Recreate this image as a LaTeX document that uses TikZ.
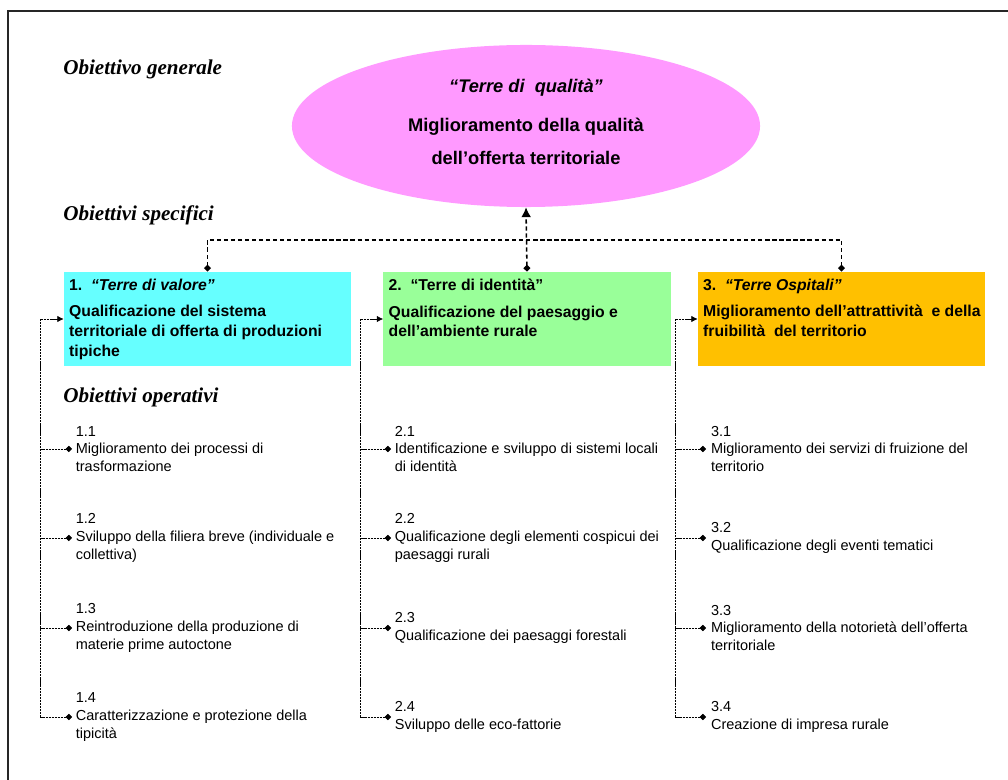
\documentclass[tikz,border=0pt]{standalone}
\usepackage{fontspec}
\setmainfont{Liberation Sans}
\newfontfamily\levelfont{Liberation Serif}
\usetikzlibrary{positioning,shapes.geometric,arrows.meta}

\definecolor{goalpink}{HTML}{FF99FF}
\definecolor{valcyan}{HTML}{66FFFF}
\definecolor{idgreen}{HTML}{99FF99}
\definecolor{ospgold}{HTML}{FFC000}

\tikzset{
  level/.style={anchor=west, inner sep=0, font=\levelfont\bfseries\itshape\fontsize{15}{17}\selectfont},
  goal/.style={ellipse, fill=goalpink, minimum width=11.7cm, minimum height=4.05cm, inner sep=0},
  goaltext/.style={align=center, inner sep=0, font=\bfseries\fontsize{13}{15}\selectfont},
  spec/.style={minimum width=7.175cm, minimum height=2.35cm, inner sep=0},
  spectext/.style={align=left, inner sep=0, anchor=north west, font=\bfseries\fontsize{11.2}{14}\selectfont},
  item/.style={align=left, inner sep=0, anchor=west, font=\fontsize{10.3}{12.5}\selectfont},
  upline/.style={line width=1.1pt, dash pattern=on 3pt off 2pt},
  opline/.style={line width=0.5pt, dash pattern=on 1.5pt off 0.6pt}
}

\begin{document}
\begin{tikzpicture}[x=0.025cm, y=-0.025cm]
  \useasboundingbox (0,0) rectangle (1008,780);
  \draw[line width=1pt, black!85] (8,780) -- (8,11) -- (1008,11);

  % levels
  \node[level] (lgen) at (63,69) {Obiettivo generale};
  \node[level] (lspec) at (63,215) {Obiettivi specifici};
  \node[level] (lop) at (63,397) {Obiettivi operativi};

  % general objective
  \node[goal] (og) at (526,126) {};
  \node[goaltext] (ogt) at ([yshift=0.1cm]og.center) {\textit{“Terre di\ \ qualità”}\\[13pt]
    Miglioramento della qualità\\[8.5pt] dell’offerta territoriale};

  % specific objectives
  \node[spec, fill=valcyan] (b1) at (207.5,319) {};
  \node[spec, fill=idgreen] (b2) at (527,319) {};
  \node[spec, fill=ospgold] (b3) at (841.5,319) {};

  \node[spectext, below right=0.17cm and 0.13cm of b1.north west] (t1)
    {1.\ \ \textit{“Terre di valore”}\\[5pt] Qualificazione del sistema\\
     territoriale di offerta di produzioni\\ tipiche};
  \node[spectext, below right=0.17cm and 0.13cm of b2.north west] (t2)
    {2.\ \ “Terre di identità”\\[5pt] Qualificazione del paesaggio e\\
     dell’ambiente rurale};
  \node[spectext, below right=0.17cm and 0.13cm of b3.north west] (t3)
    {3.\ \ \textit{“Terre Ospitali”}\\[5pt] Miglioramento dell’attrattività\ \ e della\\
     fruibilità\ \ del territorio};

  \coordinate (hl) at (207.5,240);
  \coordinate (hr) at (841.5,240);
  \draw[upline, {Diamond[length=5pt,width=5pt]}-{Diamond[length=5pt,width=5pt]}]
    (b1.north) -- (hl) -- (hr) -- (b3.north);
  \draw[upline, {Diamond[length=5pt,width=5pt]}-{Latex[length=7pt,width=7pt]}]
    (b2.north) -- (og.south);

  % operative objectives
  \coordinate (s1) at (40,717);
  \coordinate (s2) at (360,717);
  \coordinate (s3) at (675,717);
  \draw[opline, -{Latex[length=4.5pt,width=4.5pt]}] (s1) |- (b1.west);
  \draw[opline, -{Latex[length=4.5pt,width=4.5pt]}] (s2) |- (b2.west);
  \draw[opline, -{Latex[length=4.5pt,width=4.5pt]}] (s3) |- (b3.west);

  \coordinate (d11) at (72,449);
  \coordinate (d12) at (72,538);
  \coordinate (d13) at (72,628);
  \coordinate (d14) at (72,717);
  \coordinate (d21) at (391,449);
  \coordinate (d22) at (391,538);
  \coordinate (d23) at (391,628);
  \coordinate (d24) at (391,717);
  \coordinate (d31) at (706,449);
  \coordinate (d32) at (706,538);
  \coordinate (d33) at (706,628);
  \coordinate (d34) at (706,717);

  \node[item, right=0.09cm of d11] (o11) {1.1\\Miglioramento dei processi di\\trasformazione};
  \node[item, right=0.09cm of d12] (o12) {1.2\\Sviluppo della filiera breve (individuale e\\collettiva)};
  \node[item, right=0.09cm of d13] (o13) {1.3\\Reintroduzione della produzione di\\materie prime autoctone};
  \node[item, right=0.09cm of d14] (o14) {1.4\\Caratterizzazione e protezione della\\tipicità};
  \node[item, right=0.09cm of d21] (o21) {2.1\\Identificazione e sviluppo di sistemi locali\\di identità};
  \node[item, right=0.09cm of d22] (o22) {2.2\\Qualificazione degli elementi cospicui dei\\paesaggi rurali};
  \node[item, right=0.09cm of d23] (o23) {2.3\\Qualificazione dei paesaggi forestali};
  \node[item, right=0.09cm of d24] (o24) {2.4\\Sviluppo delle eco-fattorie};
  \node[item, right=0.12cm of d31] (o31) {3.1\\Miglioramento dei servizi di fruizione del\\territorio};
  \node[item, right=0.12cm of d32] (o32) {3.2\\Qualificazione degli eventi tematici};
  \node[item, right=0.12cm of d33] (o33) {3.3\\Miglioramento della notorietà dell’offerta\\territoriale};
  \node[item, right=0.12cm of d34] (o34) {3.4\\Creazione di impresa rurale};

  \draw[opline, {Diamond[length=4.5pt,width=4.5pt]}-] (d11) -- (d11 -| s1);
  \draw[opline, {Diamond[length=4.5pt,width=4.5pt]}-] (d12) -- (d12 -| s1);
  \draw[opline, {Diamond[length=4.5pt,width=4.5pt]}-] (d13) -- (d13 -| s1);
  \draw[opline, {Diamond[length=4.5pt,width=4.5pt]}-] (d14) -- (s1);
  \draw[opline, {Diamond[length=4.5pt,width=4.5pt]}-] (d21) -- (d21 -| s2);
  \draw[opline, {Diamond[length=4.5pt,width=4.5pt]}-] (d22) -- (d22 -| s2);
  \draw[opline, {Diamond[length=4.5pt,width=4.5pt]}-] (d23) -- (d23 -| s2);
  \draw[opline, {Diamond[length=4.5pt,width=4.5pt]}-] (d24) -- (s2);
  \draw[opline, {Diamond[length=4.5pt,width=4.5pt]}-] (d31) -- (d31 -| s3);
  \draw[opline, {Diamond[length=4.5pt,width=4.5pt]}-] (d32) -- (d32 -| s3);
  \draw[opline, {Diamond[length=4.5pt,width=4.5pt]}-] (d33) -- (d33 -| s3);
  \draw[opline, {Diamond[length=4.5pt,width=4.5pt]}-] (d34) -- (s3);
\end{tikzpicture}
\end{document}
